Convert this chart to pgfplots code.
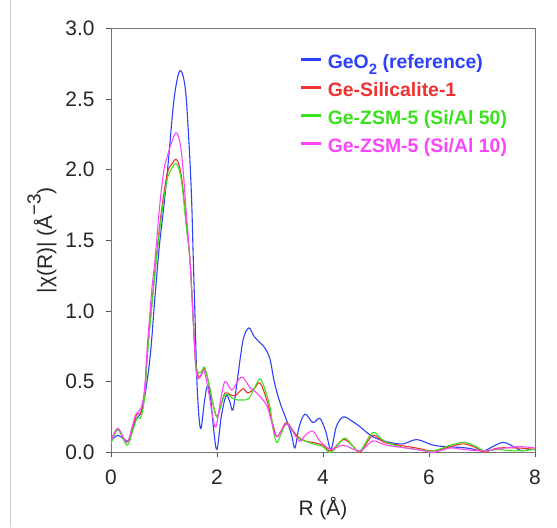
\documentclass[border=0pt]{standalone}
\usepackage{pgfplots}
\pgfplotsset{compat=1.18}
\usepackage{fontspec}
\setmainfont{Liberation Sans}
\definecolor{cblue}{RGB}{45,65,250}
\definecolor{cred}{RGB}{238,50,50}
\definecolor{cgreen}{RGB}{60,225,30}
\definecolor{cmag}{RGB}{250,70,250}
\begin{document}
\begin{tikzpicture}
\begin{axis}[
  width=424bp, height=424bp, scale only axis,
  xmin=0, xmax=8, ymin=0, ymax=3,
  xtick={0,2,4,6,8}, ytick={0,0.5,1,1.5,2,2.5,3},
  /pgf/number format/assume math mode=true,
  tick align=outside, tick pos=left, major tick length=5bp,
  every tick/.style={black!65, line width=0.8pt},
  axis line style={draw=black!55, line width=0.8pt},
  font=\fontsize{21}{25}\selectfont,
  tick label style={font=\fontsize{21}{25}\selectfont, black!85},
  xticklabel style={yshift=-9bp},
  yticklabel style={xshift=-8bp, /pgf/number format/.cd, fixed, fixed zerofill, precision=1},
  label style={font=\fontsize{21}{25}\selectfont, black!85},
  xlabel={R (Å)},
  xlabel style={yshift=-6bp},
  ylabel={|χ(R)| (Å\raisebox{0.55em}{\fontsize{19}{19}\selectfont −3})},
  ylabel style={yshift=2bp},
  legend style={at={(rel axis cs:0.437,0.95)}, anchor=north west, draw=none, fill=none,
    font=\fontsize{19.5}{22}\selectfont\bfseries, row sep=7.5bp,
    nodes={inner sep=2.5pt}},
  legend cell align=left,
  legend image code/.code={\draw[#1, line width=2.6pt] (0bp,2.5bp) -- (20bp,2.5bp); \path (24bp,2.5bp);},
  every axis plot/.append style={line width=1.1pt, smooth, tension=0.55},
]
\addplot[cblue] coordinates {
(0.00,0.08) (0.13,0.12) (0.30,0.08) (0.36,0.10) (0.45,0.22) (0.55,0.27) (0.62,0.36)
(0.68,0.50) (0.75,0.72) (0.83,1.10) (0.91,1.45) (1.00,1.75) (1.08,2.05) (1.19,2.50)
(1.30,2.70) (1.40,2.58) (1.47,2.20) (1.52,1.80) (1.55,1.40) (1.59,0.90) (1.62,0.51)
(1.66,0.25) (1.70,0.17) (1.76,0.35) (1.82,0.47) (1.88,0.38) (1.94,0.15) (2.00,0.02)
(2.08,0.25) (2.17,0.40) (2.24,0.36) (2.30,0.30) (2.38,0.50) (2.49,0.79) (2.60,0.88)
(2.70,0.82) (2.80,0.78) (2.90,0.74) (3.00,0.66) (3.08,0.50) (3.19,0.35) (3.34,0.20)
(3.41,0.12) (3.47,0.03) (3.55,0.18) (3.66,0.27) (3.81,0.21) (3.94,0.24) (4.05,0.15)
(4.15,0.02) (4.25,0.18) (4.38,0.25) (4.55,0.22) (4.70,0.18) (4.94,0.11) (5.26,0.07)
(5.51,0.06) (5.77,0.09) (6.08,0.05) (6.34,0.04) (6.72,0.03) (7.02,0.01) (7.20,0.04)
(7.40,0.07) (7.60,0.04) (7.75,0.01) (7.90,0.02) (8.00,0.02)
};
\addlegendentry{\textcolor{cblue}{GeO\raisebox{-0.3em}{\fontsize{15}{15}\selectfont 2} (reference)}}
\addplot[cred] coordinates {
(0.00,0.08) (0.13,0.16) (0.30,0.07) (0.40,0.17) (0.49,0.27) (0.55,0.27) (0.60,0.32)
(0.64,0.44) (0.69,0.72) (0.77,1.05) (0.85,1.36) (0.95,1.70) (1.06,1.97) (1.15,2.04)
(1.24,2.07) (1.33,1.95) (1.42,1.62) (1.49,1.36) (1.55,0.95) (1.60,0.62) (1.66,0.53)
(1.72,0.56) (1.77,0.59) (1.85,0.48) (1.92,0.35) (2.00,0.25) (2.08,0.34) (2.15,0.42)
(2.24,0.41) (2.34,0.40) (2.49,0.45) (2.58,0.42) (2.70,0.45) (2.81,0.49) (2.94,0.37)
(3.04,0.22) (3.13,0.11) (3.22,0.16) (3.32,0.21) (3.50,0.12) (3.66,0.08) (3.81,0.07)
(4.00,0.05) (4.15,0.01) (4.38,0.09) (4.55,0.05) (4.70,0.00) (4.94,0.12) (5.15,0.07)
(5.45,0.05) (5.77,0.03) (6.08,0.01) (6.40,0.04) (6.66,0.06) (6.90,0.03) (7.04,0.00)
(7.30,0.03) (7.70,0.03) (8.00,0.02)
};
\addlegendentry{\textcolor{cred}{Ge-Silicalite-1}}
\addplot[cgreen] coordinates {
(0.00,0.06) (0.13,0.16) (0.30,0.05) (0.40,0.14) (0.49,0.24) (0.55,0.24) (0.60,0.30)
(0.64,0.42) (0.69,0.70) (0.77,1.03) (0.85,1.34) (0.95,1.67) (1.06,1.93) (1.15,2.01)
(1.24,2.04) (1.33,1.92) (1.42,1.60) (1.49,1.36) (1.55,0.95) (1.60,0.63) (1.66,0.56)
(1.72,0.58) (1.77,0.60) (1.85,0.48) (1.92,0.35) (2.00,0.25) (2.08,0.34) (2.15,0.41)
(2.24,0.40) (2.30,0.38) (2.40,0.37) (2.49,0.37) (2.60,0.38) (2.70,0.45) (2.81,0.52)
(2.90,0.45) (3.00,0.32) (3.06,0.16) (3.13,0.07) (3.22,0.14) (3.32,0.20) (3.50,0.11)
(3.66,0.08) (3.81,0.06) (4.00,0.04) (4.15,0.00) (4.40,0.10) (4.55,0.05) (4.70,0.01)
(4.94,0.14) (5.15,0.08) (5.45,0.04) (5.77,0.02) (6.08,0.01) (6.40,0.05) (6.66,0.07)
(6.90,0.04) (7.04,0.01) (7.30,0.02) (7.60,0.01) (8.00,0.02)
};
\addlegendentry{\textcolor{cgreen}{Ge-ZSM-5 (Si/Al 50)}}
\addplot[cmag] coordinates {
(0.00,0.08) (0.13,0.17) (0.30,0.07) (0.40,0.18) (0.47,0.27) (0.55,0.30) (0.60,0.36)
(0.64,0.48) (0.68,0.72) (0.77,1.15) (0.83,1.36) (0.92,1.75) (1.00,2.00) (1.06,2.09)
(1.15,2.20) (1.24,2.26) (1.33,2.12) (1.42,1.70) (1.49,1.36) (1.55,0.95) (1.60,0.60)
(1.64,0.52) (1.70,0.55) (1.76,0.57) (1.84,0.43) (1.92,0.25) (1.98,0.18) (2.06,0.35)
(2.15,0.50) (2.28,0.44) (2.40,0.51) (2.49,0.53) (2.62,0.46) (2.75,0.42) (2.94,0.33)
(3.04,0.20) (3.13,0.11) (3.32,0.20) (3.55,0.08) (3.66,0.12) (3.81,0.15) (3.94,0.08)
(4.15,0.02) (4.38,0.05) (4.70,0.01) (4.94,0.08) (5.20,0.05) (5.77,0.02) (6.08,0.00)
(6.40,0.03) (6.66,0.02) (7.04,0.01) (7.40,0.03) (7.72,0.04) (8.00,0.03)
};
\addlegendentry{\textcolor{cmag}{Ge-ZSM-5 (Si/Al 10)}}
\end{axis}
\path (current axis.south west) ++(-111bp,-75bp) coordinate (BL);
\path (current axis.north east) ++(22bp,28bp) coordinate (TR);
\draw[black!18, line width=0.6bp] ([xshift=10bp]BL) -- ([xshift=10bp]BL |- TR);
\end{tikzpicture}
\end{document}
